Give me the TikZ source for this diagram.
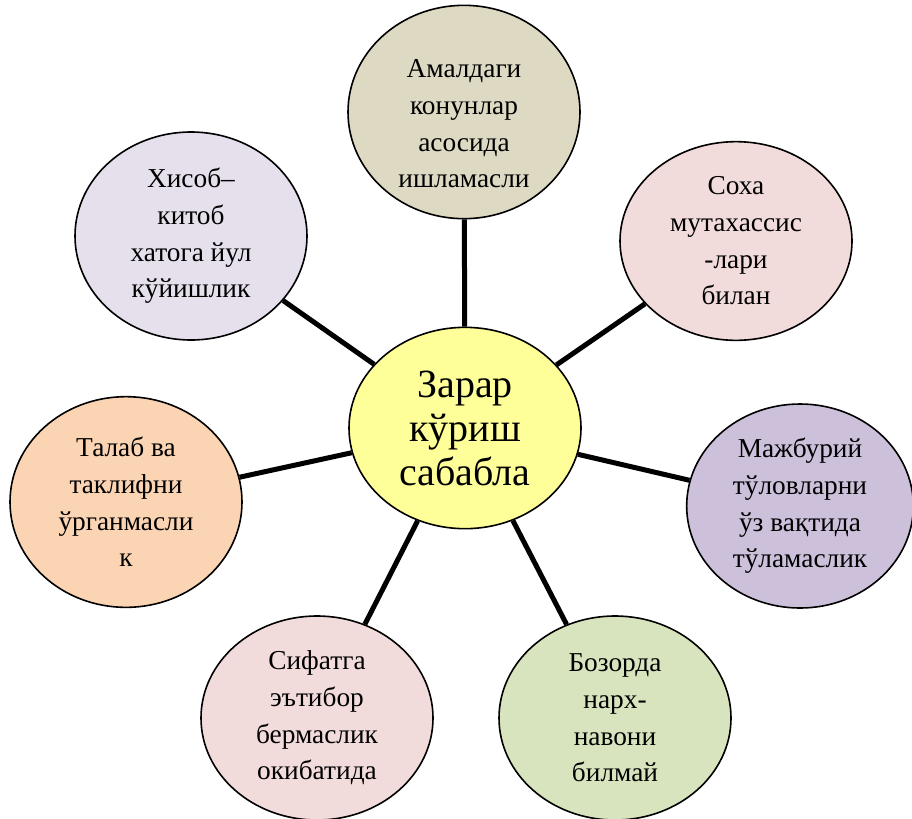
\documentclass[tikz,border=0pt]{standalone}
\usepackage{fontspec}
\setmainfont{Liberation Serif}
\usetikzlibrary{shapes.geometric}
\definecolor{tanfill}{HTML}{DDD9C3}
\definecolor{rosefill}{HTML}{F2DCDB}
\definecolor{lilacfill}{HTML}{E5E0EC}
\definecolor{violetfill}{HTML}{CCC0DA}
\definecolor{peachfill}{HTML}{FBD4B4}
\definecolor{olivefill}{HTML}{D7E4BD}
\definecolor{lemonfill}{HTML}{FFFF99}
\tikzset{
  causetext/.style={align=center,font=\fontsize{20.5}{27.5}\selectfont},
  cause/.style={ellipse,draw,line width=1.2pt,inner sep=0pt,causetext,
    minimum width=174pt,minimum height=153pt},
  hub/.style={cause,fill=lemonfill,minimum height=151pt,
    font=\fontsize{30}{33}\selectfont},
  spoke/.style={line width=3.75pt}
}
\begin{document}
\begin{tikzpicture}[x=0.75pt,y=-0.75pt]
\useasboundingbox(0,0)rectangle(912,818);
%center
\node[hub](mid)at(465,428){Зарар\\кўриш\\сабабла};
%causes
\node[cause,fill=tanfill,minimum height=160pt,
  label={[causetext,yshift=-9pt]center:Амалдаги\\конунлар\\асосида\\ишламасли}](top)at(464,112){};
\node[cause,fill=rosefill,minimum height=149pt](ur)at(736,241){Соха\\мутахассис\\-лари\\билан};
\node[cause,fill=lilacfill,minimum height=156pt](ul)at(191,236){Хисоб–\\китоб\\хатога йул\\кўйишлик};
\node[cause,fill=violetfill,minimum width=170pt](rt)at(800,506){Мажбурий\\тўловларни\\ўз вақтида\\тўламаслик};
\node[cause,fill=peachfill,minimum height=158pt](lt)at(126,502){Талаб ва\\таклифни\\ўрганмасли\\к};
\node[cause,fill=rosefill](bl)at(317,718){Сифатга\\эътибор\\бермаслик\\окибатида};
\node[cause,fill=olivefill](br)at(615,718){Бозорда\\нарх-\\навони\\билмай};
%spokes
\foreach \n in {top,ur,ul,rt,lt,bl,br}{
\draw[spoke](mid)--(\n);
}
\end{tikzpicture}
\end{document}
